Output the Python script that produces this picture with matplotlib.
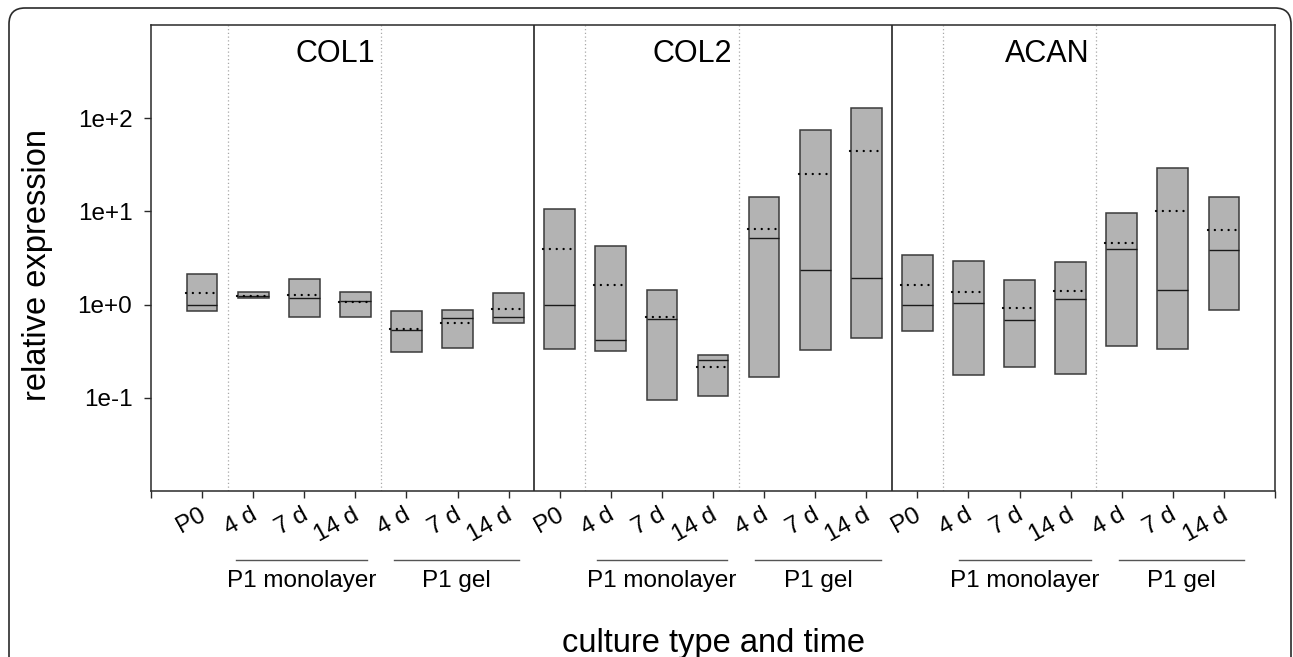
import matplotlib
matplotlib.use('Agg')
import matplotlib.pyplot as plt
from matplotlib.patches import FancyBboxPatch
from matplotlib.transforms import IdentityTransform, ScaledTranslation
from matplotlib.ticker import NullLocator

plt.rcParams['font.family'] = ['Liberation Sans', 'DejaVu Sans']

# ---------------- data ----------------
genes = ['COL1', 'COL2', 'ACAN']
conditions = ['P0', '4 d', '7 d', '14 d', '4 d', '7 d', '14 d']
groups = ['P1 monolayer', 'P1 gel']

col1_upper = [2.13, 1.35, 1.90, 1.38, 0.85, 0.87, 1.34]
col1_lower = [0.86, 1.19, 0.74, 0.74, 0.31, 0.34, 0.64]
col1_median = [0.98, 1.23, 1.18, 1.08, 0.53, 0.71, 0.73]
col1_mean = [1.32, 1.25, 1.26, 1.07, 0.55, 0.64, 0.90]

col2_upper = [10.6, 4.24, 1.44, 0.287, 14.3, 74.4, 129.0]
col2_lower = [0.333, 0.317, 0.095, 0.105, 0.166, 0.322, 0.44]
col2_median = [0.98, 0.42, 0.70, 0.254, 5.12, 2.33, 1.93]
col2_mean = [3.94, 1.64, 0.73, 0.216, 6.5, 25.4, 44.0]

acan_upper = [3.37, 2.93, 1.85, 2.88, 9.57, 29.0, 14.2]
acan_lower = [0.523, 0.174, 0.212, 0.18, 0.364, 0.333, 0.884]
acan_median = [0.98, 1.04, 0.68, 1.16, 3.97, 1.45, 3.88]
acan_mean = [1.61, 1.38, 0.91, 1.40, 4.6, 10.2, 6.34]

ytick_values = [0.1, 1, 10, 100]
ytick_labels = ['1e-1', '1e+0', '1e+1', '1e+2']

uppers = [col1_upper, col2_upper, acan_upper]
lowers = [col1_lower, col2_lower, acan_lower]
medians = [col1_median, col2_median, acan_median]
means = [col1_mean, col2_mean, acan_mean]

# ---------------- figure ----------------
W, H = 1293, 657
fig = plt.figure(figsize=(W / 100, H / 100), dpi=100)
fig.patch.set_facecolor('white')

# outer rounded frame
frame = FancyBboxPatch((9, -40), 1282, 689, boxstyle='round,pad=0,rounding_size=16',
                       transform=IdentityTransform(), facecolor='none',
                       edgecolor='#2a2a2a', linewidth=1.2)
fig.patches.append(frame)

ax_l, ax_r, ax_t, ax_b = 151, 1275, 25, 491
ax = fig.add_axes([ax_l / W, 1 - ax_b / H, (ax_r - ax_l) / W, (ax_b - ax_t) / H])
ax.set_yscale('log')
ax.set_xlim(0, 22)
ax.set_ylim(1e-2, 1e3)

box_w = 0.6
for k, g in enumerate(genes):
    xs = [1 + 7 * k + i for i in range(len(conditions))]
    up, lo, md, mn = uppers[k], lowers[k], medians[k], means[k]
    ax.bar(xs, [u - l for u, l in zip(up, lo)], bottom=lo, width=box_w,
           color='#b3b3b3', edgecolor='#3a3a3a', linewidth=1.1, zorder=3)
    ax.hlines(md, [x - box_w / 2 for x in xs], [x + box_w / 2 for x in xs],
              colors='#1a1a1a', linewidth=1.0, zorder=4)
    for x, m in zip(xs, mn):
        ax.plot([x - box_w / 2 - 0.02, x + box_w / 2 - 0.05], [m, m], color='black',
                linewidth=1.7, linestyle=(0, (0.01, 2.9)), dash_capstyle='round',
                zorder=5)
    # title
    ax.text(4.5 + 7 * k - 0.12, 0.92, g, transform=ax.get_xaxis_transform(),
            ha='right', va='baseline', fontsize=22)
    # dotted separators
    for v in (1.5 + 7 * k, 4.5 + 7 * k):
        ax.axvline(v, color='#a8a8a8', linewidth=0.9, linestyle=(0, (1, 2)), zorder=1)

for v in (7.5, 14.5):
    ax.axvline(v, color='#111111', linewidth=1.1, zorder=2)

# axes styling
for s in ax.spines.values():
    s.set_color('#2a2a2a')
    s.set_linewidth(1.1)

ax.set_yticks(ytick_values)
ax.set_yticklabels(ytick_labels)
ax.yaxis.set_minor_locator(NullLocator())
ax.tick_params(axis='y', length=5, width=1, pad=8.5, labelsize=17.5, color='#2a2a2a')

ax.set_xticks(range(23))
ax.set_xticklabels([])
ax.tick_params(axis='x', length=5, width=1, color='#2a2a2a')

# rotated condition labels
xtr = ax.get_xaxis_transform()
for k in range(len(genes)):
    for i, lab in enumerate(conditions):
        x = 1 + 7 * k + i
        t = xtr + ScaledTranslation(0.05, -0.28, fig.dpi_scale_trans)
        ax.text(x, 0, lab, transform=t, rotation=29, rotation_mode='anchor',
                ha='right', va='baseline', fontsize=17.5, clip_on=False)

# group underlines and labels
group_spans = [[(1.66, 4.22), (4.75, 7.21)],
               [(8.72, 11.28), (11.83, 14.29)],
               [(15.82, 18.39), (18.94, 21.40)]]
line_y = -(560 - ax_b) / (ax_b - ax_t)
text_y = -(587 - ax_b) / (ax_b - ax_t)
for k in range(len(genes)):
    for (a, b), name in zip(group_spans[k], groups):
        ax.plot([a, b], [line_y, line_y], transform=xtr, color='#555555',
                linewidth=1.0, clip_on=False)
        ax.text((a + b) / 2, text_y, name, transform=xtr, ha='center',
                va='baseline', fontsize=17.5)

# axis titles
fig.text(53 / W, 1 - 265 / H, 'relative expression', rotation=90, ha='right',
         va='center', fontsize=23.5)
fig.text((ax_l + ax_r) / 2 / W, 1 - 652 / H, 'culture type and time', ha='center',
         va='baseline', fontsize=23.5)

fig.savefig('out.png', dpi=100)
